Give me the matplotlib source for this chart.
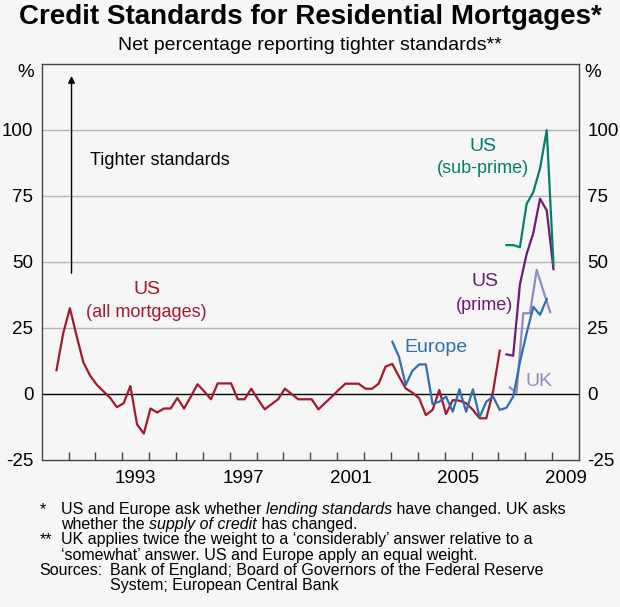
import numpy as np
import matplotlib
matplotlib.use("Agg")
import matplotlib.pyplot as plt

plt.rcParams["font.family"] = ["Liberation Sans", "DejaVu Sans"]

# quarterly survey values, net % reporting tighter standards
us_all_start = 1990.5
us_all = [9, 23, 32.5, 22, 12, 7, 3.5, 1, -1.5, -5, -3.5, 3, -11.5, -15, -5.5, -7,
          -5.5, -5.5, -1.5, -5.5, -1, 3.7, 1, -2,
          4, 4, 4, -2, -2, 2, -2, -5.8, -3.9, -2, 2, 0, -2, -2, -2, -5.8,
          -3.4, -1, 1.5, 3.9, 3.9, 3.9, 2, 2, 4,
          10.4, 11.4, 6.6, 2.1, 0.5, -1.6, -8, -6, 1.5, -7.6, -2.3, -2.5, -3.5,
          -6, -9.2, -9.2, 0.9, 16.4]
europe_start = 2003.0
europe = [19.8, 14.1, 3.4, 8.8, 11.2, 11.2, -3.8, -2.9, -1, -6.7, 1.8, -6.7,
          1.8, -8.8, -2.9, -1, -6, -5.2, -1, 12, 23, 33, 30, 36]
us_sub_start = 2007.25
us_sub = [56.4, 56.4, 55.6, 72, 76.5, 85.5, 100, 49]
us_prime_start = 2007.25
us_prime = [15, 14.5, 41.5, 53, 61, 74, 69.5, 47.3]
uk_start = 2007.375
uk = [2.5, 0.5, 30.6, 30.6, 47, 39, 31]

year_labels = [1993, 1997, 2001, 2005, 2009]
y_ticks = [-25, 0, 25, 50, 75, 100]

RED = "#a3192d"
BLUE = "#2f6fae"
GREEN = "#00806a"
PURPLE = "#6b1c76"
UKCOL = "#8d8dc0"
BG = "#f6f6f6"


def quarters(start, vals):
    return start + 0.05 + 0.25 * np.arange(len(vals))


fig = plt.figure(figsize=(6.2, 6.07), dpi=100, facecolor=BG)
W, H = 620, 607
ax = fig.add_axes([41.7 / W, 1 - 460 / H, (579 - 41.7) / W, (460 - 64) / H])
ax.set_facecolor(BG)

ax.set_xlim(1990, 2010)
ax.set_ylim(-25, 125)

for g in [25, 50, 75, 100]:
    ax.axhline(g, color="#b4b4b4", lw=1, zorder=1)
ax.axhline(0, color="black", lw=1, zorder=2)

lw = 1.6
ax.plot(quarters(us_all_start, us_all), us_all, color=RED, lw=lw, zorder=3)
ax.plot(quarters(europe_start, europe), europe, color=BLUE, lw=lw, zorder=4)
ax.plot(quarters(uk_start, uk), uk, color=UKCOL, lw=lw, zorder=3)
ax.plot(quarters(us_prime_start, us_prime), us_prime, color=PURPLE, lw=lw, zorder=3)
ax.plot(quarters(us_sub_start, us_sub), us_sub, color=GREEN, lw=lw, zorder=3)

# axes styling
for s in ax.spines.values():
    s.set_color("#444444")
    s.set_linewidth(1)
ax.set_xticks(np.arange(1991, 2010))
ax.set_xticklabels([])
ax.set_xticks([y + 0.5 for y in year_labels], minor=True)
ax.set_xticklabels([str(y) for y in year_labels], minor=True, fontsize=13.5)
ax.tick_params(axis="x", which="major", direction="in", length=6, width=1, color="#444444")
ax.tick_params(axis="x", which="minor", length=0, pad=7)
ax.set_yticks(y_ticks)
ax.set_yticklabels([str(v) for v in y_ticks], fontsize=13.5)
ax.tick_params(axis="y", length=0, pad=6, labelright=True)

ax.text(-0.03, 121.7, "%", transform=ax.get_yaxis_transform(), ha="center", va="center", fontsize=13.5)
ax.text(1.025, 121.7, "%", transform=ax.get_yaxis_transform(), ha="center", va="center", fontsize=13.5)

# arrow and labels
ax.annotate("", xy=(1991.11, 121.5), xytext=(1991.11, 44.7),
            arrowprops=dict(arrowstyle="-|>", color="black", lw=1, mutation_scale=10))
ax.text(1991.8, 88.6, "Tighter standards", fontsize=13, ha="left", va="center")
ax.text(1993.91, 39.4, "US", color=RED, fontsize=14, ha="center", va="center")
ax.text(1993.91, 30.8, "(all mortgages)", color=RED, fontsize=13, ha="center", va="center")
ax.text(2006.42, 93.7, "US", color=GREEN, fontsize=14, ha="center", va="center")
ax.text(2006.42, 85.5, "(sub-prime)", color=GREEN, fontsize=13, ha="center", va="center")
ax.text(2006.5, 42.5, "US", color=PURPLE, fontsize=14, ha="center", va="center")
ax.text(2006.5, 33.7, "(prime)", color=PURPLE, fontsize=13, ha="center", va="center")
ax.text(2004.68, 17.5, "Europe", color=BLUE, fontsize=14, ha="center", va="center")
ax.text(2008.52, 4.9, "UK", color=UKCOL, fontsize=14, ha="center", va="center")

# titles
fig.text(0.5, 1 - 17 / H, "Credit Standards for Residential Mortgages*",
         fontsize=20, fontweight="bold", ha="center", va="center")
fig.text(0.5, 1 - 45 / H, "Net percentage reporting tighter standards**",
         fontsize=14, ha="center", va="center")

# footnotes, italic bits drawn as separate pieces
fs = 11.5
base = [514, 529.2, 544.4, 559.6, 574.8, 590]
renderer = fig.canvas.get_renderer()


def line(x, row, pieces):
    px = x
    for txt, style in pieces:
        t = fig.text(px / W, 1 - base[row] / H, txt, fontsize=fs, style=style,
                     ha="left", va="baseline")
        px += t.get_window_extent(renderer).width


line(40, 0, [("*", "normal")])
line(61, 0, [("US and Europe ask whether ", "normal"), ("lending standards", "italic"),
             (" have changed. UK asks", "normal")])
line(61, 1, [("whether the ", "normal"), ("supply of credit", "italic"),
             (" has changed.", "normal")])
line(40, 2, [("**", "normal")])
line(61, 2, [("UK applies twice the weight to a \u2018considerably\u2019 answer relative to a", "normal")])
line(61, 3, [("\u2018somewhat\u2019 answer. US and Europe apply an equal weight.", "normal")])
line(39, 4, [("Sources:", "normal")])
line(110, 4, [("Bank of England; Board of Governors of the Federal Reserve", "normal")])
line(110, 5, [("System; European Central Bank", "normal")])

fig.savefig("out.png", dpi=100, facecolor=BG)
